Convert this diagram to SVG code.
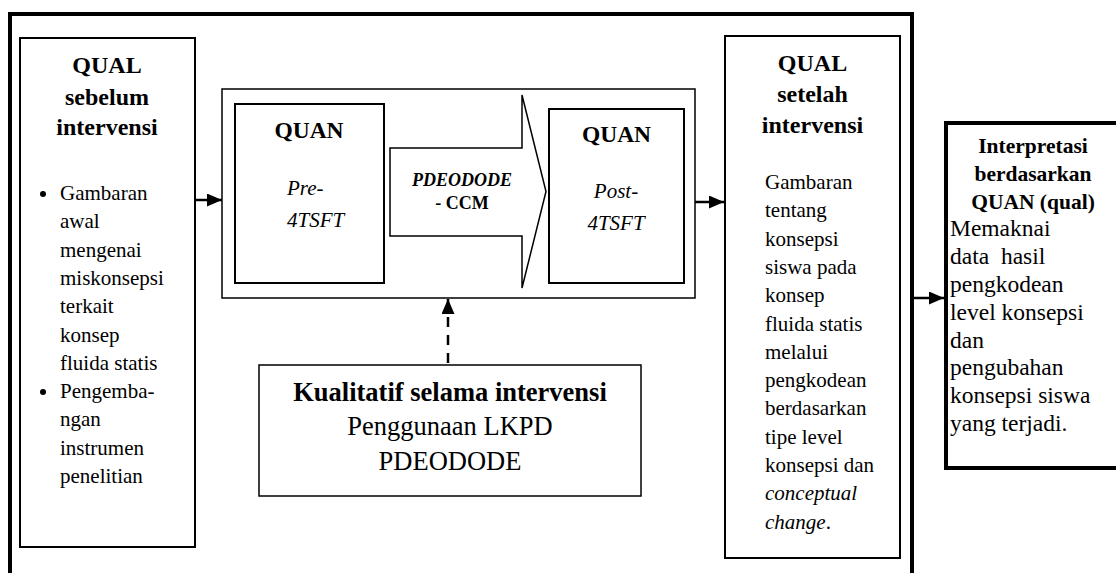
<svg xmlns="http://www.w3.org/2000/svg" width="1116" height="573" viewBox="0 0 1116 573" font-family="'Liberation Serif', 'Times New Roman', Tinos, 'DejaVu Serif', serif">
<defs>
<style>
text{font-family:'Liberation Serif','Times New Roman',Tinos,'DejaVu Serif',serif;fill:#000}
.b{font-weight:bold}
.i{font-style:italic}
.h{font-size:24px;font-weight:bold;text-anchor:middle}
.t{font-size:21px}
.r{font-size:23.5px}
.box{fill:#fff;stroke:#000}
.ln{stroke:#000;stroke-width:2.5;fill:none}
</style>
<marker id="ah" markerUnits="userSpaceOnUse" markerWidth="15" markerHeight="13" refX="15" refY="6.5" orient="auto">
<path d="M0,0 L15,6.5 L0,13 z" fill="#000"/>
</marker>
</defs>
<rect width="1116" height="573" fill="#fff"/>

<g id="outer">
<rect x="10" y="14" width="902" height="620" fill="none" stroke="#000" stroke-width="4"/>
</g>

<g id="qual-before">
<rect class="box" x="20" y="38" width="175" height="509" stroke-width="2"/>
<text class="h" x="107" y="73">QUAL</text>
<text class="h" x="107" y="105">sebelum</text>
<text class="h" x="107" y="135">intervensi</text>
<circle cx="43" cy="194" r="3"/>
<circle cx="43" cy="392" r="3"/>
<text class="t" x="60" y="200">Gambaran</text>
<text class="t" x="60" y="228.3">awal</text>
<text class="t" x="60" y="256.6">mengenai</text>
<text class="t" x="60" y="284.9">miskonsepsi</text>
<text class="t" x="60" y="313.2">terkait</text>
<text class="t" x="60" y="341.5">konsep</text>
<text class="t" x="60" y="369.8">fluida statis</text>
<text class="t" x="60" y="398.1">Pengemba-</text>
<text class="t" x="60" y="426.4">ngan</text>
<text class="t" x="60" y="454.7">instrumen</text>
<text class="t" x="60" y="483">penelitian</text>
</g>

<g id="intervention">
<rect class="box" x="222" y="89" width="473" height="209" stroke-width="1.5"/>
</g>

<g id="quan-pre">
<rect class="box" x="235" y="104" width="149" height="179" stroke-width="2"/>
<text class="b" x="309" y="138" font-size="23.5" text-anchor="middle">QUAN</text>
<text class="i" x="287" y="195" font-size="21">Pre-</text>
<text class="i" x="287" y="227" font-size="21">4TSFT</text>
</g>

<g id="treatment">
<path d="M390,148 L522,148 L522,95 L546,191.5 L522,288 L522,236 L390,236 Z" fill="#fff" stroke="#000" stroke-width="1.5"/>
<text class="b i" x="462" y="186" font-size="18" text-anchor="middle">PDEODODE</text>
<text class="b" x="462" y="209" font-size="18" text-anchor="middle">- CCM</text>
</g>

<g id="quan-post">
<rect class="box" x="549" y="109" width="135" height="174" stroke-width="2"/>
<text class="b" x="616.5" y="142" font-size="23.5" text-anchor="middle">QUAN</text>
<text class="i" x="616" y="198" font-size="21" text-anchor="middle">Post-</text>
<text class="i" x="616" y="230" font-size="21" text-anchor="middle">4TSFT</text>
</g>

<g id="qual-during">
<rect class="box" x="259" y="365" width="382" height="131" stroke-width="1.5"/>
<text class="b" x="450" y="401" font-size="26.5" text-anchor="middle">Kualitatif selama intervensi</text>
<text x="450" y="435" font-size="26.5" text-anchor="middle">Penggunaan LKPD</text>
<text x="450" y="470" font-size="26.5" text-anchor="middle">PDEODODE</text>
</g>

<g id="qual-after">
<rect class="box" x="725" y="36" width="175" height="522" stroke-width="2"/>
<text class="h" x="812.5" y="71">QUAL</text>
<text class="h" x="812.5" y="102">setelah</text>
<text class="h" x="812.5" y="133">intervensi</text>
<text class="t" x="765" y="189">Gambaran</text>
<text class="t" x="765" y="217.3">tentang</text>
<text class="t" x="765" y="245.6">konsepsi</text>
<text class="t" x="765" y="273.9">siswa pada</text>
<text class="t" x="765" y="302.2">konsep</text>
<text class="t" x="765" y="330.5">fluida statis</text>
<text class="t" x="765" y="358.8">melalui</text>
<text class="t" x="765" y="387.1">pengkodean</text>
<text class="t" x="765" y="415.4">berdasarkan</text>
<text class="t" x="765" y="443.7">tipe level</text>
<text class="t" x="765" y="472">konsepsi dan</text>
<text class="t i" x="765" y="500.3">conceptual</text>
<text class="t" x="765" y="528.6"><tspan font-style="italic">change</tspan>.</text>
</g>

<g id="interpretation">
<rect class="box" x="946" y="123" width="180" height="345" stroke-width="4"/>
<text class="b" x="1033" y="153" font-size="21.5" text-anchor="middle">Interpretasi</text>
<text class="b" x="1033" y="180.8" font-size="21.5" text-anchor="middle">berdasarkan</text>
<text class="b" x="1033" y="208.6" font-size="21.5" text-anchor="middle">QUAN (qual)</text>
<text class="r" x="950" y="236.4">Memaknai</text>
<text class="r" x="950" y="264.2" xml:space="preserve">data  hasil</text>
<text class="r" x="950" y="292">pengkodean</text>
<text class="r" x="950" y="319.8">level konsepsi</text>
<text class="r" x="950" y="347.6">dan</text>
<text class="r" x="950" y="375.4">pengubahan</text>
<text class="r" x="950" y="403.2">konsepsi siswa</text>
<text class="r" x="950" y="431">yang terjadi.</text>
</g>

<g id="connectors">
<line class="ln" x1="195" y1="200" x2="222" y2="200" marker-end="url(#ah)"/>
<line class="ln" x1="695" y1="202" x2="724" y2="202" marker-end="url(#ah)"/>
<line class="ln" x1="914" y1="298" x2="944" y2="298" marker-end="url(#ah)"/>
<line class="ln" x1="448" y1="363" x2="448" y2="299" stroke-dasharray="10,8" marker-end="url(#ah)"/>
</g>
</svg>
